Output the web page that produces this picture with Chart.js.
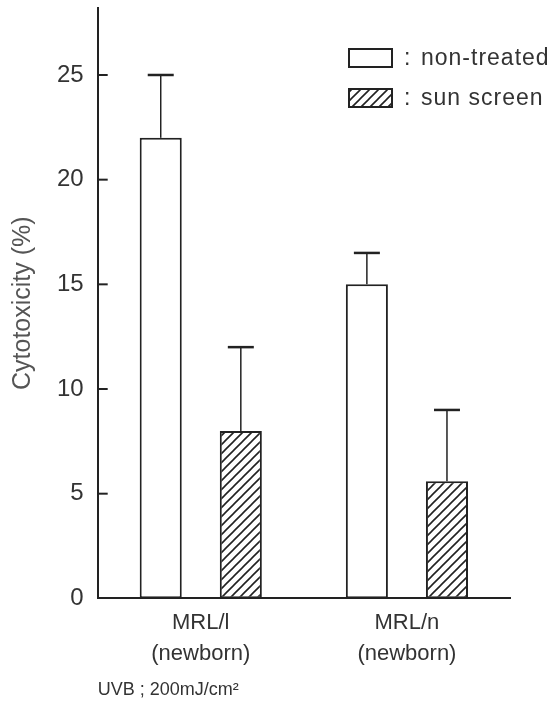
<!DOCTYPE html>
<html>
<head>
<meta charset="utf-8">
<script src="https://cdn.jsdelivr.net/npm/chart.js@4.4.0/dist/chart.umd.min.js"></script>
<style>
  html, body { margin: 0; padding: 0; background: #fff; }
  #wrap { width: 551px; height: 707px; }
</style>
</head>
<body>
<div id="wrap"><canvas id="cytoChart"></canvas></div>
<script>
// --- data ---
const strains = [['MRL/l', '(newborn)'], ['MRL/n', '(newborn)']];
const nonTreated = [22, 15];
const nonTreatedErr = [3, 1.5];
const sunScreen = [8, 5.6];
const sunScreenErr = [4, 3.4];
const yTicks = [0, 5, 10, 15, 20, 25];
const seriesNames = ['non-treated', 'sun screen'];
const doseNote = 'UVB ; 200mJ/cm\u00b2';

const INK = '#222';
const FONT = '"Liberation Sans", Arial, sans-serif';

const canvas = document.getElementById('cytoChart');
const ctx = canvas.getContext('2d');

// diagonal hatch for the sun screen bars
function makeHatch() {
  const s = 9;
  const c = document.createElement('canvas');
  c.width = s; c.height = s;
  const g = c.getContext('2d');
  g.fillStyle = '#fff';
  g.fillRect(0, 0, s, s);
  g.strokeStyle = INK;
  g.lineWidth = 1.6;
  g.beginPath();
  g.moveTo(-1, s + 1); g.lineTo(s + 1, -1);
  g.moveTo(-1, 1); g.lineTo(1, -1);
  g.moveTo(s - 1, s + 1); g.lineTo(s + 1, s - 1);
  g.stroke();
  return ctx.createPattern(c, 'repeat');
}
const hatch = makeHatch();

// error bars, inward y ticks and the legend
const extras = {
  id: 'extras',
  afterDatasetsDraw(chart) {
    const c = chart.ctx;
    const y = chart.scales.y;
    const errs = [nonTreatedErr, sunScreenErr];
    c.save();
    c.strokeStyle = INK;
    chart.data.datasets.forEach((ds, i) => {
      chart.getDatasetMeta(i).data.forEach((bar, j) => {
        const top = y.getPixelForValue(ds.data[j] + errs[i][j]);
        c.lineWidth = 1.5;
        c.beginPath(); c.moveTo(bar.x, bar.y); c.lineTo(bar.x, top); c.stroke();
        c.lineWidth = 2.5;
        c.beginPath(); c.moveTo(bar.x - 13, top); c.lineTo(bar.x + 13, top); c.stroke();
      });
    });

    const left = chart.chartArea.left;
    c.lineWidth = 2;
    yTicks.forEach(v => {
      if (v === 0) return;
      const py = y.getPixelForValue(v);
      c.beginPath(); c.moveTo(left, py); c.lineTo(left + 10, py); c.stroke();
    });

    // legend
    const rows = [{ y: 49, fill: '#fff' }, { y: 89, fill: hatch }];
    c.font = '23px ' + FONT;
    c.textBaseline = 'middle';
    rows.forEach((r, i) => {
      c.fillStyle = r.fill;
      c.fillRect(349, r.y, 43, 18);
      c.lineWidth = 2;
      c.strokeRect(349, r.y, 43, 18);
      c.fillStyle = '#333';
      c.letterSpacing = '1px';
      c.fillText(':', 404, r.y + 10);
      c.fillText(seriesNames[i], 421, r.y + 10);
      c.letterSpacing = '0px';
    });
    c.restore();
  }
};

new Chart(ctx, {
  type: 'bar',
  data: {
    labels: strains,
    datasets: [
      {
        label: seriesNames[0],
        data: nonTreated,
        backgroundColor: '#fff',
        borderColor: INK,
        borderWidth: 2,
        borderSkipped: false
      },
      {
        label: seriesNames[1],
        data: sunScreen,
        backgroundColor: hatch,
        borderColor: INK,
        borderWidth: 2,
        borderSkipped: false
      }
    ]
  },
  options: {
    responsive: true,
    maintainAspectRatio: false,
    animation: false,
    layout: { padding: { top: 8, right: 41, left: 8, bottom: 0 } },
    datasets: { bar: { categoryPercentage: 0.777, barPercentage: 0.525 } },
    plugins: {
      legend: { display: false },
      tooltip: { enabled: false }
    },
    scales: {
      x: {
        grid: { display: false, drawTicks: false },
        border: { display: true, color: INK, width: 2 },
        ticks: {
          color: '#333',
          font: { family: FONT, size: 22, lineHeight: 1.41 },
          padding: 9.5,
          maxRotation: 0
        },
        title: {
          display: true,
          text: doseNote,
          align: 'start',
          color: '#333',
          font: { family: FONT, size: 18 },
          padding: { top: 0, bottom: 6 }
        }
      },
      y: {
        min: 0,
        max: 28.2,
        afterBuildTicks: (scale) => { scale.ticks = yTicks.map(v => ({ value: v })); },
        // ticks themselves are drawn inward by the plugin; tickLength only spaces the labels
        grid: { display: false, drawTicks: true, tickLength: 14 },
        border: { display: true, color: INK, width: 2 },
        ticks: {
          color: '#333',
          font: { family: FONT, size: 24, lineHeight: 0.6 },
          padding: 0
        },
        title: {
          display: true,
          text: 'Cytotoxicity (%)',
          color: '#555',
          font: { family: FONT, size: 25 },
          padding: { top: 0, bottom: 19 }
        }
      }
    }
  },
  plugins: [extras]
});
</script>
</body>
</html>
